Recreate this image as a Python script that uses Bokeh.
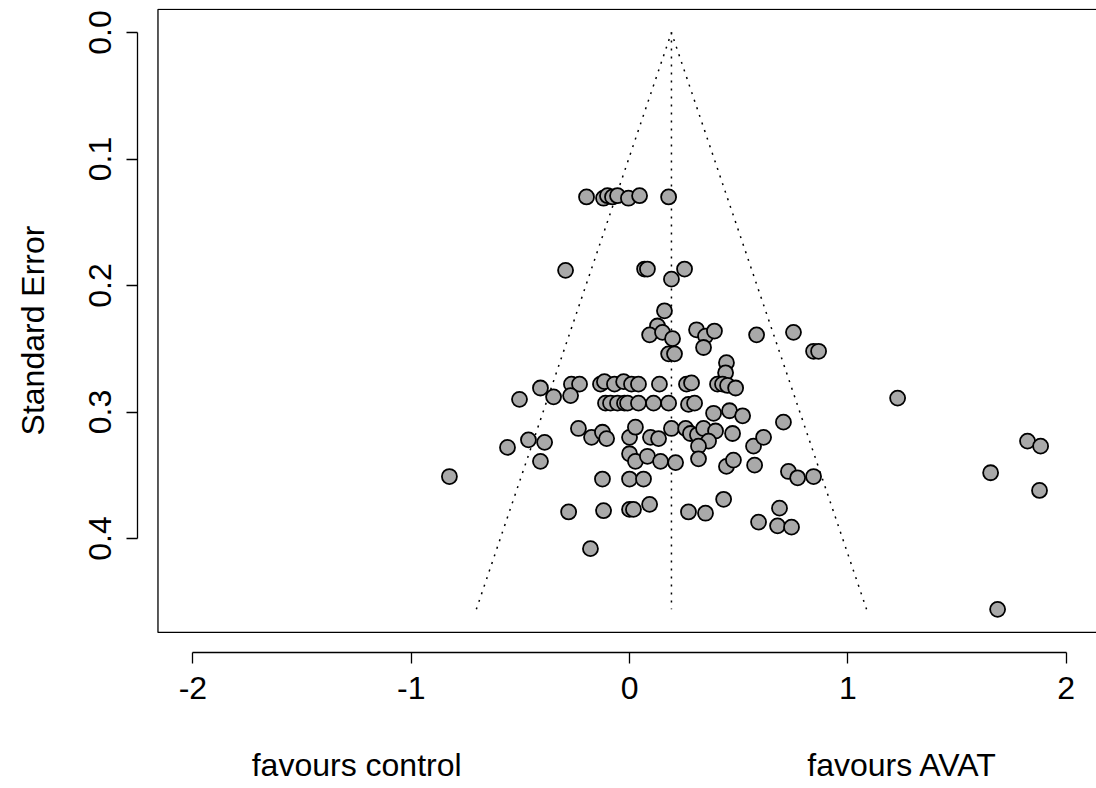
from bokeh.plotting import figure
from bokeh.models import Range1d, FixedTicker, LinearAxis, PrintfTickFormatter
from bokeh.embed import file_html
from bokeh.resources import INLINE

# Effect estimates (x) and standard errors (y)
effect = [-0.197, -0.119, -0.101, -0.078, -0.055, -0.005, 0.046, 0.179,
          -0.293, 0.069, 0.082, 0.252, 0.192,
          0.160, 0.128, 0.092, 0.151, 0.197, 0.307, 0.348, 0.389, 0.339, 0.582, 0.751,
          0.843, 0.866, 0.179, 0.206, 0.444, 0.440,
          -0.408, -0.266, -0.229, -0.133, -0.115, -0.069, -0.027, 0.009, 0.041, 0.137,
          0.261, 0.284, 0.403, 0.426, 0.449, 0.486,
          -0.504, -0.348, -0.270,
          -0.110, -0.087, -0.055, -0.023, -0.009, 0.041, 0.110, 0.179, 0.270, 0.298,
          0.385, 0.458, 0.518, 0.705, 1.228,
          -0.234, -0.174, -0.124, -0.105, 0.000, 0.027, 0.096, 0.133, 0.192, 0.257,
          0.279, 0.311, 0.339, 0.394, 0.362, 0.316, 0.472, 0.568, 0.614,
          -0.559, -0.463, -0.389,
          -0.408, 0.000, 0.027, 0.082, 0.142, 0.211, 0.316, 0.444, 0.476, 0.573,
          0.728, 0.770, 0.843, -0.825, -0.124, 0.000, 0.064,
          -0.279, -0.119, 0.000, 0.018, 0.092, 0.270, 0.348, 0.431, 0.591, 0.687,
          0.678, 0.742, -0.179,
          1.823, 1.883, 1.654, 1.878, 1.686]
std_err = [0.130, 0.131, 0.129, 0.130, 0.129, 0.131, 0.129, 0.130,
           0.188, 0.187, 0.187, 0.187, 0.195,
           0.220, 0.232, 0.239, 0.237, 0.242, 0.235, 0.240, 0.236, 0.249, 0.239, 0.237,
           0.252, 0.252, 0.254, 0.254, 0.261, 0.269,
           0.281, 0.278, 0.278, 0.278, 0.276, 0.278, 0.276, 0.278, 0.278, 0.278,
           0.278, 0.277, 0.278, 0.278, 0.279, 0.281,
           0.290, 0.288, 0.287,
           0.293, 0.293, 0.293, 0.293, 0.293, 0.293, 0.293, 0.293, 0.294, 0.293,
           0.301, 0.299, 0.303, 0.308, 0.289,
           0.313, 0.320, 0.316, 0.321, 0.320, 0.312, 0.320, 0.321, 0.313, 0.313,
           0.317, 0.318, 0.313, 0.315, 0.323, 0.327, 0.317, 0.327, 0.320,
           0.328, 0.322, 0.324,
           0.339, 0.333, 0.339, 0.335, 0.339, 0.340, 0.337, 0.343, 0.338, 0.342,
           0.347, 0.352, 0.351, 0.351, 0.353, 0.353, 0.353,
           0.379, 0.378, 0.377, 0.377, 0.373, 0.379, 0.380, 0.369, 0.387, 0.376,
           0.390, 0.391, 0.408,
           0.323, 0.327, 0.348, 0.362, 0.456]

pooled = 0.192
x_ticks = [-2, -1, 0, 1, 2]
y_ticks = [0.0, 0.1, 0.2, 0.3, 0.4]
x_label_left = "favours control"
x_label_right = "favours AVAT"
y_title = "Standard Error"

FONT = "Liberation Sans"
FS = "32px"

se_max = max(std_err)
# R-style user coordinates (4% extension)
usr_x = (x_ticks[0] - 0.04 * (x_ticks[-1] - x_ticks[0]), x_ticks[-1] + 0.04 * (x_ticks[-1] - x_ticks[0]))
usr_y = (-0.04 * se_max, 1.04 * se_max)

p = figure(width=1096, height=788, output_backend="svg", toolbar_location=None,
           x_range=Range1d(-2.2538, 2.139), y_range=Range1d(0.4901, -0.01897),
           min_border_left=137, min_border_right=0, min_border_top=8, min_border_bottom=136,
           x_axis_type=None, y_axis_type=None)
p.outline_line_color = None
p.xgrid.visible = False
p.ygrid.visible = False
p.background_fill_color = "white"
p.border_fill_color = "white"

# plot box
p.quad(left=[usr_x[0]], right=[usr_x[1]], top=[usr_y[0]], bottom=[usr_y[1]],
       fill_color=None, line_color="black", line_width=1.3)

# funnel and pooled estimate
p.line([pooled - 1.96 * se_max, pooled, pooled + 1.96 * se_max], [se_max, 0, se_max],
       line_color="black", line_dash="2 6", line_width=1.5)
p.line([pooled, pooled], [0, se_max], line_color="black", line_dash="2 6", line_width=1.5)

p.scatter(effect, std_err, size=15, fill_color="#A9A9A9", line_color="black", line_width=1.8)

def style(ax):
    ax.major_label_text_font = FONT
    ax.major_label_text_font_size = FS
    ax.major_label_text_color = "black"
    ax.axis_label_text_font = FONT
    ax.axis_label_text_font_size = FS
    ax.axis_label_text_font_style = "normal"
    ax.axis_label_text_color = "black"
    ax.axis_line_color = "black"
    ax.axis_line_width = 1.3
    ax.major_tick_line_color = "black"
    ax.major_tick_line_width = 1.3
    ax.major_tick_in = 0
    ax.major_tick_out = 11
    ax.minor_tick_line_color = None
    ax.minor_tick_out = 0

xa = LinearAxis(ticker=FixedTicker(ticks=x_ticks), bounds=(x_ticks[0], x_ticks[-1]),
                major_label_overrides={t: str(t) for t in x_ticks})
style(xa)
xa.major_label_standoff = 13
p.add_layout(xa, "below")

xa2 = LinearAxis(ticker=FixedTicker(ticks=[-1.25, 1.25]),
                 major_label_overrides={-1.25: x_label_left, 1.25: x_label_right})
style(xa2)
xa2.axis_line_color = None
xa2.major_tick_line_color = None
xa2.major_tick_out = 0
xa2.major_label_standoff = 45
p.add_layout(xa2, "below")

ya = LinearAxis(ticker=FixedTicker(ticks=y_ticks), bounds=(y_ticks[0], y_ticks[-1]),
                formatter=PrintfTickFormatter(format="%.1f"), axis_label=y_title)
style(ya)
ya.major_label_orientation = "vertical"
ya.major_label_standoff = 15
ya.axis_label_standoff = 36
p.add_layout(ya, "left")

open("out.html", "w").write(file_html(p, INLINE))
